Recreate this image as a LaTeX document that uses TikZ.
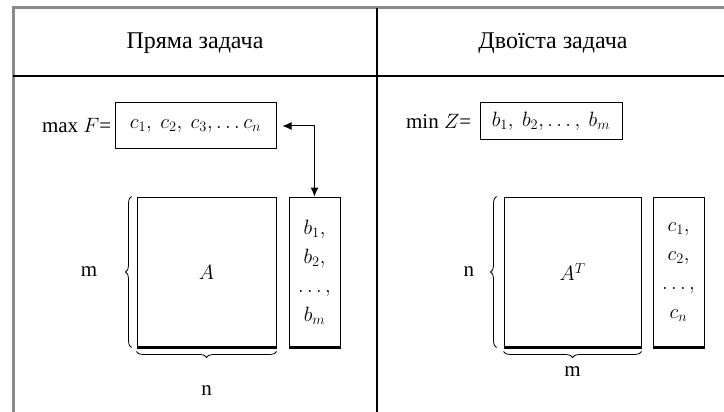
\documentclass[tikz,border=0pt]{standalone}
\usepackage{amsmath}
\usepackage{fontspec}
\setmainfont{Liberation Serif}
\usepackage{xcolor}
\usetikzlibrary{arrows.meta,positioning,decorations.pathreplacing,calc}
\definecolor{Frame}{HTML}{8A8A8A}
\tikzset{
  headtext/.style={font=\fontsize{24}{27}\selectfont},
  vecbox/.style={draw,line width=1pt,inner sep=4pt,font=\fontsize{20}{22}\selectfont},
  matbox/.style={draw,line width=1pt,minimum width=139pt,minimum height=150pt,
              font=\fontsize{22}{24}\selectfont},
  colbox/.style={draw,line width=1pt,minimum width=51pt,minimum height=150pt,
              align=center,font=\fontsize{20}{29}\selectfont},
  lbl/.style={font=\fontsize{21}{24}\selectfont,inner sep=2pt},
  bothflow/.style={{Latex[length=9pt,width=8pt]}-{Latex[length=9pt,width=8pt]},line width=1pt},
  bracepath/.style={decorate,decoration={brace,amplitude=6pt},line width=0.8pt}
}
\begin{document}
\begin{tikzpicture}[x=1pt,y=-1pt]
  \useasboundingbox (0,0) rectangle (724,412);
  % table frame
  \draw[Frame,line width=3pt] (13,412) -- (13,8) -- (724,8);
  \draw[line width=1.2pt] (13,76) -- (724,76);
  \draw[line width=1.2pt] (377,8) -- (377,412);
  \node[headtext] (head1) at (195,43) {Пряма задача};
  \node[headtext] (head2) at (553,43) {Двоїста задача};
  % primal problem
  \node[vecbox,minimum width=161pt,minimum height=46pt] (cvec) at (195.5,126) {$c_1,\ c_2,\ c_3,\ldots c_n$};
  \node[lbl,left=1pt of cvec] (fmax) {max $F$=};
  \node[matbox] (amat) at (206.5,272) {$A$};
  \node[colbox,right=12pt of amat] (bcol) {$b_1,$\\$b_2,$\\$\ldots,$\\$b_m$};
  \draw[line width=2.5pt] (amat.south west) -- (amat.south east);
  \draw[line width=2.5pt] (bcol.south west) -- (bcol.south east);
  \draw[bothflow] ([xshift=6pt]cvec.east) -| (bcol.north);
  \draw[bracepath] ([xshift=-5pt]amat.south west) -- ([xshift=-5pt]amat.north west)
    node[lbl,midway,left=32pt] (mleft) {m};
  \draw[bracepath] ([yshift=-4pt]amat.south east) -- ([yshift=-4pt]amat.south west)
    node[lbl,midway,below=32pt] (nleft) {n};
  % dual problem
  \node[vecbox,minimum width=142pt,minimum height=37pt] (bvec) at (551,121.5) {$b_1,\ b_2,\ldots,\ b_m$};
  \node[lbl,left=6pt of bvec] (zmin) {min $Z$=};
  \node[matbox,minimum width=137pt] (atmat) at (572.5,272) {$A^T$};
  \node[colbox,right=11pt of atmat] (ccol) {$c_1,$\\$c_2,$\\$\ldots,$\\$c_n$};
  \draw[line width=2.5pt] (atmat.south west) -- (atmat.south east);
  \draw[line width=2.5pt] (ccol.south west) -- (ccol.south east);
  \draw[bracepath] ([xshift=-7pt]atmat.south west) -- ([xshift=-7pt]atmat.north west)
    node[lbl,midway,left=20pt] (nright) {n};
  \draw[bracepath] ([yshift=-4pt]atmat.south east) -- ([yshift=-4pt]atmat.south west)
    node[lbl,midway,below=13pt] (mright) {m};
\end{tikzpicture}
\end{document}
